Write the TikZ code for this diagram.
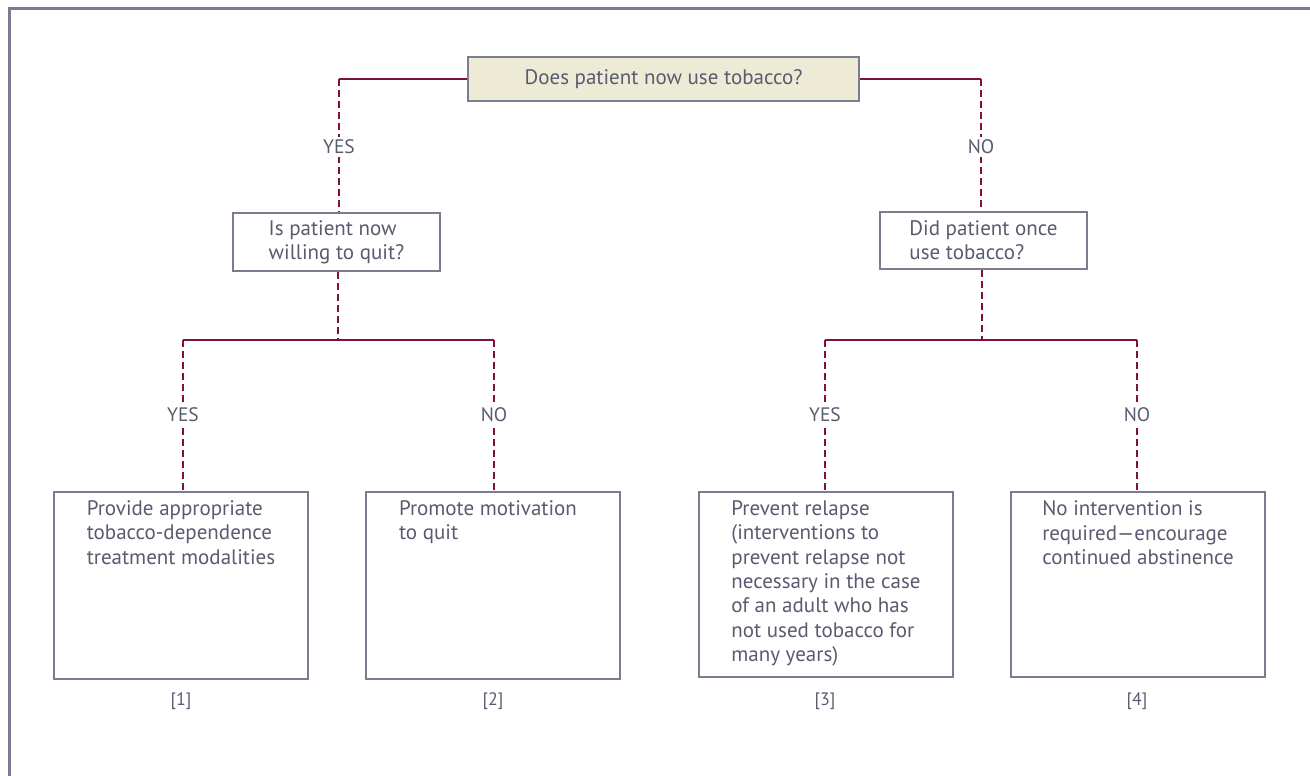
\documentclass[tikz,border=0pt]{standalone}
\usepackage{fontspec}
\setmainfont{PT Sans}
\definecolor{linec}{HTML}{7D0F42}
\definecolor{boxc}{HTML}{7C7C90}
\definecolor{txtc}{HTML}{5A5A70}
\definecolor{beige}{HTML}{EDEAD5}
\tikzset{
  qbox/.style={draw=boxc, line width=2.8pt, fill=white, inner sep=0pt, align=left, text=txtc,
    font=\fontsize{21}{24.3}\selectfont},
  topbox/.style={qbox, fill=beige, align=center},
  bigbox/.style={draw=boxc, line width=2.8pt, fill=white, inner sep=0pt, minimum width=254pt},
  boxtext/.style={inner sep=0pt, align=left, text=txtc, anchor=north, font=\fontsize{21}{24.3}\selectfont},
  solidline/.style={draw=linec, line width=2.8pt},
  dashline/.style={draw=linec, line width=2.8pt, dash pattern=on 7pt off 4pt},
  answer/.style={fill=white, inner sep=3pt, text=txtc, font=\fontsize{19.5}{22}\selectfont},
  numlabel/.style={inner sep=0pt, text=txtc, font=\fontsize{18}{20}\selectfont},
  frame/.style={draw=boxc, line width=3pt}
}
\begin{document}
\begin{tikzpicture}[x=1pt,y=-1pt]
\useasboundingbox (0,0) rectangle (1310,776);
\draw[frame] (9,777) -- (9,9) -- (1311,9);

% boxes
\node[topbox, minimum width=391pt, minimum height=44pt] (top) at (663.5,79) {Does patient now use tobacco?};
\node[qbox, minimum width=207pt, minimum height=58pt] (q1) at (336.5,242) {Is patient now\\willing to quit?};
\node[qbox, minimum width=207pt, minimum height=57pt] (q2) at (983.5,240.5) {Did patient once\\use tobacco?};

\node[bigbox, minimum height=187pt] (b1) at (181,585.5) {};
\node[bigbox, minimum height=187pt] (b2) at (493,585.5) {};
\node[bigbox, minimum height=185pt] (b3) at (826,584.5) {};
\node[bigbox, minimum height=185pt] (b4) at (1138,584.5) {};

\node[boxtext] (t1) at ([yshift=-10pt]b1.north) {Provide appropriate\\tobacco-dependence\\treatment modalities};
\node[boxtext] (t2) at ([yshift=-10pt,xshift=-5pt]b2.north) {Promote motivation\\to quit};
\node[boxtext] (t3) at ([yshift=-10pt]b3.north) {Prevent relapse\\(interventions to\\prevent relapse not\\necessary in the case\\of an adult who has\\not used tobacco for\\many years)};
\node[boxtext] (t4) at ([yshift=-10pt]b4.north) {No intervention is\\required---encourage\\continued abstinence};

% coordinates
\coordinate (ctl) at (339,79);
\coordinate (ctr) at (981,79);
\coordinate (j1) at (338,340);
\coordinate (cl1) at (183,340);
\coordinate (cr1) at (494,340);
\coordinate (j2) at (982,340);
\coordinate (cl2) at (825,340);
\coordinate (cr2) at (1137,340);

% connectors
\draw[solidline] (top.west) -- (ctl);
\draw[solidline] (top.east) -- (ctr);
\draw[dashline] (ctl) -- (ctl |- q1.north);
\draw[dashline] (ctr) -- (ctr |- q2.north);

\draw[dashline] (j1 |- q1.south) -- (j1);
\draw[solidline] (cl1) -- (cr1);
\draw[dashline] (cl1) -- (cl1 |- b1.north);
\draw[dashline] (cr1) -- (cr1 |- b2.north);

\draw[dashline] (j2 |- q2.south) -- (j2);
\draw[solidline] (cl2) -- (cr2);
\draw[dashline] (cl2) -- (cl2 |- b3.north);
\draw[dashline] (cr2) -- (cr2 |- b4.north);

% answers
\node[answer] (a1) at (339,147) {YES};
\node[answer] (a2) at (981,147) {NO};
\node[answer] (a3) at (183,415) {YES};
\node[answer] (a4) at (494,415) {NO};
\node[answer] (a5) at (825,415) {YES};
\node[answer] (a6) at (1137,415) {NO};

% numbers
\node[numlabel] (n1) at (181,701) {[1]};
\node[numlabel] (n2) at (493,701) {[2]};
\node[numlabel] (n3) at (825,701) {[3]};
\node[numlabel] (n4) at (1137,701) {[4]};
\end{tikzpicture}
\end{document}
